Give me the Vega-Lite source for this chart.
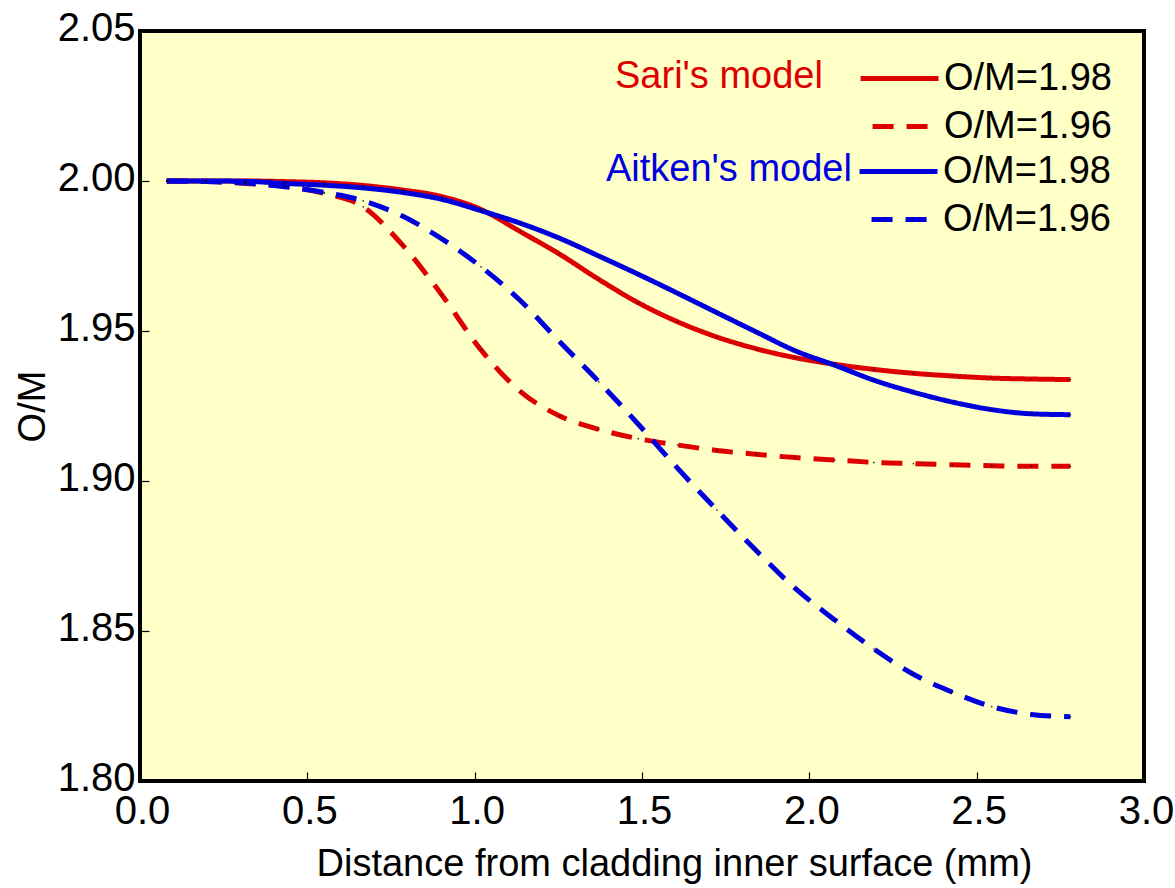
{
  "$schema": "https://vega.github.io/schema/vega-lite/v6.json",
  "autosize": {"type": "none"},
  "padding": {"left": 140, "top": 31, "right": 31, "bottom": 107},
  "width": 1004,
  "height": 750,
  "background": "white",
  "config": {
    "font": "Liberation Sans",
    "view": {"fill": "#FFFFC8", "stroke": "black", "strokeWidth": 4},
    "axis": {
      "grid": false,
      "domain": false,
      "labelFlush": false,
      "tickColor": "black",
      "tickWidth": 1.2,
      "tickSize": -9,
      "labelFont": "Liberation Sans",
      "labelFontSize": 40,
      "labelColor": "black",
      "titleFont": "Liberation Sans",
      "titleFontSize": 38,
      "titleFontWeight": "normal",
      "titleColor": "black"
    },
    "legend": {
      "orient": "none",
      "direction": "vertical",
      "padding": 0,
      "titleOrient": "left",
      "titleFont": "Liberation Sans",
      "titleFontSize": 38,
      "titleFontWeight": "normal",
      "titleAnchor": "start",
      "titleBaseline": "top",
      "titleLimit": 400,
      "labelFont": "Liberation Sans",
      "labelFontSize": 38,
      "labelColor": "black",
      "labelLimit": 400,
      "labelOffset": 3,
      "symbolType": "M-3.33,0H1",
      "symbolSize": 1296,
      "symbolStrokeWidth": 5,
      "symbolDashOffset": 22,
      "rowPadding": 8
    }
  },
  "data": {
    "values": [
      {"model": "Sari", "series": "Sari O/M=1.98", "x": 0.080, "om": 2.0000},
      {"model": "Sari", "series": "Sari O/M=1.98", "x": 0.197, "om": 2.0000},
      {"model": "Sari", "series": "Sari O/M=1.98", "x": 0.315, "om": 2.0000},
      {"model": "Sari", "series": "Sari O/M=1.98", "x": 0.432, "om": 1.9998},
      {"model": "Sari", "series": "Sari O/M=1.98", "x": 0.550, "om": 1.9994},
      {"model": "Sari", "series": "Sari O/M=1.98", "x": 0.667, "om": 1.9985},
      {"model": "Sari", "series": "Sari O/M=1.98", "x": 0.784, "om": 1.9970},
      {"model": "Sari", "series": "Sari O/M=1.98", "x": 0.902, "om": 1.9948},
      {"model": "Sari", "series": "Sari O/M=1.98", "x": 1.019, "om": 1.9905},
      {"model": "Sari", "series": "Sari O/M=1.98", "x": 1.137, "om": 1.9831},
      {"model": "Sari", "series": "Sari O/M=1.98", "x": 1.254, "om": 1.9756},
      {"model": "Sari", "series": "Sari O/M=1.98", "x": 1.371, "om": 1.9672},
      {"model": "Sari", "series": "Sari O/M=1.98", "x": 1.489, "om": 1.9594},
      {"model": "Sari", "series": "Sari O/M=1.98", "x": 1.606, "om": 1.9531},
      {"model": "Sari", "series": "Sari O/M=1.98", "x": 1.724, "om": 1.9480},
      {"model": "Sari", "series": "Sari O/M=1.98", "x": 1.841, "om": 1.9441},
      {"model": "Sari", "series": "Sari O/M=1.98", "x": 1.958, "om": 1.9411},
      {"model": "Sari", "series": "Sari O/M=1.98", "x": 2.076, "om": 1.9389},
      {"model": "Sari", "series": "Sari O/M=1.98", "x": 2.193, "om": 1.9372},
      {"model": "Sari", "series": "Sari O/M=1.98", "x": 2.311, "om": 1.9359},
      {"model": "Sari", "series": "Sari O/M=1.98", "x": 2.428, "om": 1.9350},
      {"model": "Sari", "series": "Sari O/M=1.98", "x": 2.545, "om": 1.9343},
      {"model": "Sari", "series": "Sari O/M=1.98", "x": 2.663, "om": 1.9340},
      {"model": "Sari", "series": "Sari O/M=1.98", "x": 2.780, "om": 1.9338},

      {"model": "Sari", "series": "Sari O/M=1.96", "x": 0.080, "om": 2.0000},
      {"model": "Sari", "series": "Sari O/M=1.96", "x": 0.197, "om": 1.9999},
      {"model": "Sari", "series": "Sari O/M=1.96", "x": 0.315, "om": 1.9992},
      {"model": "Sari", "series": "Sari O/M=1.96", "x": 0.432, "om": 1.9983},
      {"model": "Sari", "series": "Sari O/M=1.96", "x": 0.550, "om": 1.9959},
      {"model": "Sari", "series": "Sari O/M=1.96", "x": 0.667, "om": 1.9914},
      {"model": "Sari", "series": "Sari O/M=1.96", "x": 0.784, "om": 1.9787},
      {"model": "Sari", "series": "Sari O/M=1.96", "x": 0.902, "om": 1.9620},
      {"model": "Sari", "series": "Sari O/M=1.96", "x": 1.019, "om": 1.9437},
      {"model": "Sari", "series": "Sari O/M=1.96", "x": 1.137, "om": 1.9298},
      {"model": "Sari", "series": "Sari O/M=1.96", "x": 1.254, "om": 1.9217},
      {"model": "Sari", "series": "Sari O/M=1.96", "x": 1.371, "om": 1.9172},
      {"model": "Sari", "series": "Sari O/M=1.96", "x": 1.489, "om": 1.9141},
      {"model": "Sari", "series": "Sari O/M=1.96", "x": 1.606, "om": 1.9120},
      {"model": "Sari", "series": "Sari O/M=1.96", "x": 1.724, "om": 1.9102},
      {"model": "Sari", "series": "Sari O/M=1.96", "x": 1.841, "om": 1.9089},
      {"model": "Sari", "series": "Sari O/M=1.96", "x": 1.958, "om": 1.9078},
      {"model": "Sari", "series": "Sari O/M=1.96", "x": 2.076, "om": 1.9070},
      {"model": "Sari", "series": "Sari O/M=1.96", "x": 2.193, "om": 1.9062},
      {"model": "Sari", "series": "Sari O/M=1.96", "x": 2.311, "om": 1.9058},
      {"model": "Sari", "series": "Sari O/M=1.96", "x": 2.428, "om": 1.9054},
      {"model": "Sari", "series": "Sari O/M=1.96", "x": 2.545, "om": 1.9051},
      {"model": "Sari", "series": "Sari O/M=1.96", "x": 2.663, "om": 1.9049},
      {"model": "Sari", "series": "Sari O/M=1.96", "x": 2.780, "om": 1.9049},

      {"model": "Aitken", "series": "Aitken O/M=1.98", "x": 0.080, "om": 2.0000},
      {"model": "Aitken", "series": "Aitken O/M=1.98", "x": 0.197, "om": 2.0000},
      {"model": "Aitken", "series": "Aitken O/M=1.98", "x": 0.315, "om": 1.9999},
      {"model": "Aitken", "series": "Aitken O/M=1.98", "x": 0.432, "om": 1.9992},
      {"model": "Aitken", "series": "Aitken O/M=1.98", "x": 0.550, "om": 1.9986},
      {"model": "Aitken", "series": "Aitken O/M=1.98", "x": 0.667, "om": 1.9977},
      {"model": "Aitken", "series": "Aitken O/M=1.98", "x": 0.784, "om": 1.9962},
      {"model": "Aitken", "series": "Aitken O/M=1.98", "x": 0.902, "om": 1.9939},
      {"model": "Aitken", "series": "Aitken O/M=1.98", "x": 1.019, "om": 1.9901},
      {"model": "Aitken", "series": "Aitken O/M=1.98", "x": 1.137, "om": 1.9859},
      {"model": "Aitken", "series": "Aitken O/M=1.98", "x": 1.254, "om": 1.9809},
      {"model": "Aitken", "series": "Aitken O/M=1.98", "x": 1.371, "om": 1.9750},
      {"model": "Aitken", "series": "Aitken O/M=1.98", "x": 1.489, "om": 1.9689},
      {"model": "Aitken", "series": "Aitken O/M=1.98", "x": 1.606, "om": 1.9626},
      {"model": "Aitken", "series": "Aitken O/M=1.98", "x": 1.724, "om": 1.9561},
      {"model": "Aitken", "series": "Aitken O/M=1.98", "x": 1.841, "om": 1.9497},
      {"model": "Aitken", "series": "Aitken O/M=1.98", "x": 1.958, "om": 1.9434},
      {"model": "Aitken", "series": "Aitken O/M=1.98", "x": 2.076, "om": 1.9386},
      {"model": "Aitken", "series": "Aitken O/M=1.98", "x": 2.193, "om": 1.9336},
      {"model": "Aitken", "series": "Aitken O/M=1.98", "x": 2.311, "om": 1.9296},
      {"model": "Aitken", "series": "Aitken O/M=1.98", "x": 2.428, "om": 1.9263},
      {"model": "Aitken", "series": "Aitken O/M=1.98", "x": 2.545, "om": 1.9238},
      {"model": "Aitken", "series": "Aitken O/M=1.98", "x": 2.663, "om": 1.9224},
      {"model": "Aitken", "series": "Aitken O/M=1.98", "x": 2.780, "om": 1.9221},

      {"model": "Aitken", "series": "Aitken O/M=1.96", "x": 0.080, "om": 2.0000},
      {"model": "Aitken", "series": "Aitken O/M=1.96", "x": 0.197, "om": 1.9998},
      {"model": "Aitken", "series": "Aitken O/M=1.96", "x": 0.315, "om": 1.9993},
      {"model": "Aitken", "series": "Aitken O/M=1.96", "x": 0.432, "om": 1.9981},
      {"model": "Aitken", "series": "Aitken O/M=1.96", "x": 0.550, "om": 1.9962},
      {"model": "Aitken", "series": "Aitken O/M=1.96", "x": 0.667, "om": 1.9934},
      {"model": "Aitken", "series": "Aitken O/M=1.96", "x": 0.784, "om": 1.9883},
      {"model": "Aitken", "series": "Aitken O/M=1.96", "x": 0.902, "om": 1.9807},
      {"model": "Aitken", "series": "Aitken O/M=1.96", "x": 1.019, "om": 1.9714},
      {"model": "Aitken", "series": "Aitken O/M=1.96", "x": 1.137, "om": 1.9601},
      {"model": "Aitken", "series": "Aitken O/M=1.96", "x": 1.254, "om": 1.9464},
      {"model": "Aitken", "series": "Aitken O/M=1.96", "x": 1.371, "om": 1.9331},
      {"model": "Aitken", "series": "Aitken O/M=1.96", "x": 1.489, "om": 1.9189},
      {"model": "Aitken", "series": "Aitken O/M=1.96", "x": 1.606, "om": 1.9043},
      {"model": "Aitken", "series": "Aitken O/M=1.96", "x": 1.724, "om": 1.8903},
      {"model": "Aitken", "series": "Aitken O/M=1.96", "x": 1.841, "om": 1.8768},
      {"model": "Aitken", "series": "Aitken O/M=1.96", "x": 1.958, "om": 1.8642},
      {"model": "Aitken", "series": "Aitken O/M=1.96", "x": 2.076, "om": 1.8537},
      {"model": "Aitken", "series": "Aitken O/M=1.96", "x": 2.193, "om": 1.8440},
      {"model": "Aitken", "series": "Aitken O/M=1.96", "x": 2.311, "om": 1.8356},
      {"model": "Aitken", "series": "Aitken O/M=1.96", "x": 2.428, "om": 1.8296},
      {"model": "Aitken", "series": "Aitken O/M=1.96", "x": 2.545, "om": 1.8248},
      {"model": "Aitken", "series": "Aitken O/M=1.96", "x": 2.663, "om": 1.8222},
      {"model": "Aitken", "series": "Aitken O/M=1.96", "x": 2.780, "om": 1.8214}
    ]
  },
  "encoding": {
    "x": {
      "field": "x",
      "type": "quantitative",
      "scale": {"domain": [0, 3], "nice": false, "zero": false},
      "axis": {
        "title": "Distance from cladding inner surface (mm)",
        "values": [0, 0.5, 1, 1.5, 2, 2.5, 3],
        "format": ".1f",
        "labelPadding": 19,
        "labelOffset": 2,
        "titlePadding": 14,
        "titleX": 534,
        "titleAnchor": "middle"
      }
    },
    "y": {
      "field": "om",
      "type": "quantitative",
      "scale": {"domain": [1.8, 2.05], "nice": false, "zero": false},
      "axis": {
        "title": "O/M",
        "values": [1.8, 1.85, 1.9, 1.95, 2.0, 2.05],
        "format": ".2f",
        "labelPadding": 14,
        "labelOffset": -3,
        "titlePadding": 5
      }
    }
  },
  "layer": [
    {
      "transform": [{"filter": "datum.model === 'Sari'"}],
      "mark": {"type": "line", "interpolate": "monotone", "strokeWidth": 5, "strokeCap": "butt"},
      "encoding": {
        "color": {
          "field": "series",
          "type": "nominal",
          "scale": {"domain": ["Sari O/M=1.98", "Sari O/M=1.96"], "range": ["#DD0000", "#DD0000"]},
          "legend": {
            "title": "Sari's model",
            "titleColor": "#DD0000",
            "titlePadding": 77,
            "legendX": 475,
            "legendY": 27,
            "labelExpr": "split(datum.label, ' ')[1]"
          }
        },
        "strokeDash": {
          "field": "series",
          "type": "nominal",
          "scale": {"domain": ["Sari O/M=1.98", "Sari O/M=1.96"], "range": [[1, 0], [21, 13]]},
          "legend": {
            "title": "Sari's model",
            "titleColor": "#DD0000",
            "titlePadding": 77,
            "legendX": 475,
            "legendY": 27,
            "labelExpr": "split(datum.label, ' ')[1]"
          }
        }
      }
    },
    {
      "transform": [{"filter": "datum.model === 'Aitken'"}],
      "mark": {"type": "line", "interpolate": "monotone", "strokeWidth": 5, "strokeCap": "butt"},
      "encoding": {
        "color": {
          "field": "series",
          "type": "nominal",
          "scale": {"domain": ["Aitken O/M=1.98", "Aitken O/M=1.96"], "range": ["#0000DD", "#0000DD"]},
          "legend": {
            "title": "Aitken's model",
            "titleColor": "#0000DD",
            "titlePadding": 47,
            "legendX": 466,
            "legendY": 120,
            "labelExpr": "split(datum.label, ' ')[1]"
          }
        },
        "strokeDash": {
          "field": "series",
          "type": "nominal",
          "scale": {"domain": ["Aitken O/M=1.98", "Aitken O/M=1.96"], "range": [[1, 0], [21, 13]]},
          "legend": {
            "title": "Aitken's model",
            "titleColor": "#0000DD",
            "titlePadding": 47,
            "legendX": 466,
            "legendY": 120,
            "labelExpr": "split(datum.label, ' ')[1]"
          }
        }
      }
    },
    {
      "mark": {"type": "point", "filled": true, "size": 3, "color": "black", "opacity": 0.8},
      "encoding": {}
    }
  ],
  "resolve": {
    "scale": {"color": "independent", "strokeDash": "independent"},
    "legend": {"color": "independent", "strokeDash": "independent"}
  }
}
